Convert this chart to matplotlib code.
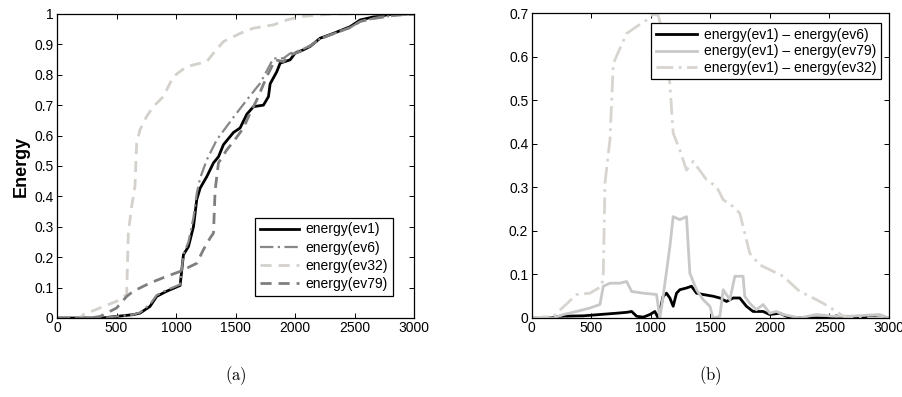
import numpy as np
import matplotlib
matplotlib.use("Agg")
import matplotlib.pyplot as plt

plt.rcParams['font.family'] = ['Liberation Sans', 'DejaVu Sans']
plt.rcParams['mathtext.fontset'] = 'cm'

# ---- panel (a): cumulative energy ----
ev1_x = [0, 375, 640, 697, 781, 837, 921, 1034, 1062, 1104, 1146, 1174, 1202, 1258, 1314, 1356, 1398, 1482,
         1538, 1594, 1650, 1734, 1776, 1790, 1846, 1874, 1958, 2000, 2070, 2126, 2210, 2322, 2462, 2546, 2658, 2826, 3000]
ev1_y = [0, 0, 0.011, 0.016, 0.038, 0.071, 0.088, 0.107, 0.208, 0.235, 0.30, 0.39, 0.427, 0.465, 0.51, 0.53, 0.57, 0.61,
         0.625, 0.67, 0.695, 0.70, 0.728, 0.77, 0.81, 0.838, 0.849, 0.871, 0.882, 0.893, 0.92, 0.936, 0.958, 0.98, 0.99, 1.0, 1.0]

ev6_x = [0, 375, 640, 697, 781, 837, 921, 1034, 1062, 1104, 1146, 1174, 1202, 1258, 1342, 1482, 1594, 1706, 1818,
         1902, 1958, 2042, 2126, 2210, 2322, 2462, 2546, 2658, 2826, 3000]
ev6_y = [0, 0, 0.011, 0.018, 0.045, 0.075, 0.092, 0.11, 0.21, 0.25, 0.33, 0.41, 0.46, 0.52, 0.586, 0.66, 0.717, 0.772, 0.854,
         0.854, 0.87, 0.88, 0.895, 0.918, 0.935, 0.955, 0.975, 0.985, 0.995, 1.0]

ev32_x = [0, 193, 221, 361, 501, 585, 599, 627, 655, 669, 697, 753, 809, 893, 977, 1090, 1258, 1314, 1398, 1538,
          1650, 1818, 1930, 2042, 2322, 3000]
ev32_y = [0, 0, 0.011, 0.033, 0.055, 0.077, 0.28, 0.367, 0.433, 0.575, 0.619, 0.663, 0.695, 0.728, 0.794, 0.827, 0.843,
          0.871, 0.909, 0.936, 0.953, 0.964, 0.98, 0.991, 1.0, 1.0]

ev79_x = [0, 277, 361, 501, 585, 641, 781, 921, 1034, 1174, 1230, 1286, 1314, 1328, 1356, 1426, 1482, 1566, 1622,
          1678, 1762, 1832, 1902, 1958, 2042, 2126, 2210, 2322, 2462, 2546, 2658, 2826, 3000]
ev79_y = [0, 0, 0.005, 0.033, 0.071, 0.088, 0.115, 0.137, 0.153, 0.18, 0.225, 0.263, 0.279, 0.42, 0.51, 0.553, 0.58, 0.625,
          0.674, 0.717, 0.794, 0.849, 0.843, 0.865, 0.876, 0.895, 0.918, 0.935, 0.955, 0.975, 0.985, 0.995, 1.0]

# ---- panel (b): differences ----
d6_x = [0, 154, 238, 433, 573, 713, 797, 839, 881, 937, 993, 1034, 1062, 1104, 1132, 1160, 1188, 1216, 1244, 1300,
        1342, 1384, 1440, 1524, 1580, 1636, 1692, 1747, 1803, 1859, 1943, 1999, 2083, 2139, 2223, 2530, 2558, 2600,
        2866, 2900, 3000]
d6_y = [0, 0, 0.004, 0.005, 0.008, 0.011, 0.013, 0.015, 0.004, 0.002, 0.008, 0.015, 0, 0.05, 0.057, 0.046, 0.027, 0.057,
        0.065, 0.069, 0.073, 0.057, 0.054, 0.05, 0.046, 0.038, 0.046, 0.046, 0.027, 0.015, 0.015, 0.008, 0.011, 0.004,
        0, 0, 0.005, 0, 0.004, 0, 0]

d79_x = [0, 182, 266, 377, 489, 573, 601, 657, 741, 797, 839, 937, 1048, 1076, 1104, 1160, 1188, 1244, 1300, 1328,
         1384, 1440, 1496, 1524, 1580, 1608, 1664, 1706, 1734, 1775, 1789, 1831, 1887, 1943, 1999, 2055, 2111, 2251,
         2391, 2530, 2670, 2922, 3000]
d79_y = [0, 0, 0.008, 0.015, 0.023, 0.031, 0.073, 0.08, 0.08, 0.084, 0.061, 0.057, 0.054, 0, 0.05, 0.164, 0.233, 0.226,
         0.233, 0.103, 0.065, 0.042, 0.027, 0, 0.004, 0.065, 0.042, 0.096, 0.096, 0.096, 0.05, 0.034, 0.019, 0.031, 0.011,
         0.015, 0.008, 0, 0.008, 0.004, 0.004, 0.008, 0]

d32_x = [0, 182, 377, 489, 587, 601, 615, 657, 685, 797, 881, 965, 1020, 1062, 1104, 1160, 1188, 1244, 1300, 1356,
         1468, 1552, 1608, 1692, 1747, 1789, 1831, 1915, 1999, 2111, 2251, 2335, 2447, 2558, 2642, 3000]
d32_y = [0, 0.004, 0.054, 0.057, 0.073, 0.103, 0.31, 0.41, 0.585, 0.654, 0.67, 0.685, 0.698, 0.696, 0.654, 0.539, 0.425,
         0.386, 0.34, 0.36, 0.318, 0.302, 0.272, 0.256, 0.241, 0.195, 0.149, 0.122, 0.111, 0.096, 0.061, 0.05, 0.034,
         0.015, 0, 0]

fig = plt.figure(figsize=(9.02, 3.97), dpi=100)
ax1 = fig.add_axes([0.0632, 0.199, 0.396, 0.766])
ax2 = fig.add_axes([0.5895, 0.199, 0.396, 0.767])


def style(ax):
    ax.tick_params(direction='in', top=True, right=True, labelsize=10, length=3.5, pad=2.5, width=0.7)
    for s in ax.spines.values():
        s.set_linewidth(0.9)
    ax.set_xlim(0, 3000)
    ax.set_xticks(np.arange(0, 3001, 500))


ax1.plot(ev1_x, ev1_y, color='black', lw=2, label='energy(ev1)')
ax1.plot(ev6_x, ev6_y, color='#888888', lw=1.6, ls=(0, (6, 2, 1, 2)), label='energy(ev6)')
ax1.plot(ev32_x, ev32_y, color='#d4d1cc', lw=2, ls=(0, (4, 2.5)), label='energy(ev32)')
ax1.plot(ev79_x, ev79_y, color='#7f7f7f', lw=2, ls=(0, (4, 2.5)), label='energy(ev79)')
style(ax1)
ax1.set_ylim(0, 1)
ax1.set_yticks(np.arange(0, 1.01, 0.1))
ax1.set_yticklabels(['0', '0.1', '0.2', '0.3', '0.4', '0.5', '0.6', '0.7', '0.8', '0.9', '1'])
ax1.set_ylabel('Energy', fontsize=13, fontweight='bold', labelpad=3)
leg1 = ax1.legend(loc='lower right', fontsize=10, fancybox=False, edgecolor='black', framealpha=1,
                  handlelength=2.8, borderpad=0.35, labelspacing=0.3, handletextpad=0.5,
                  bbox_to_anchor=(0.96, 0.05))
leg1.get_frame().set_linewidth(0.9)

ax2.plot(d6_x, d6_y, color='black', lw=2, label='energy(ev1) \u2013 energy(ev6)')
ax2.plot(d79_x, d79_y, color='#c8c8c8', lw=2, label='energy(ev1) \u2013 energy(ev79)')
ax2.plot(d32_x, d32_y, color='#d8d5d0', lw=2, ls=(0, (6, 2, 1, 2)), label='energy(ev1) \u2013 energy(ev32)')
style(ax2)
ax2.set_ylim(0, 0.7)
ax2.set_yticks(np.arange(0, 0.71, 0.1))
ax2.set_yticklabels(['0', '0.1', '0.2', '0.3', '0.4', '0.5', '0.6', '0.7'])
leg2 = ax2.legend(loc='upper right', fontsize=10, fancybox=False, edgecolor='black', framealpha=1,
                  handlelength=3.0, borderpad=0.3, labelspacing=0.2, handletextpad=0.5,
                  bbox_to_anchor=(0.997, 0.99))
leg2.get_frame().set_linewidth(0.9)

fig.text(0.262, 0.055, r'$\mathrm{(a)}$', ha='center', va='center', fontsize=12)
fig.text(0.787, 0.055, r'$\mathrm{(b)}$', ha='center', va='center', fontsize=12)

fig.savefig('out.png', dpi=100)
